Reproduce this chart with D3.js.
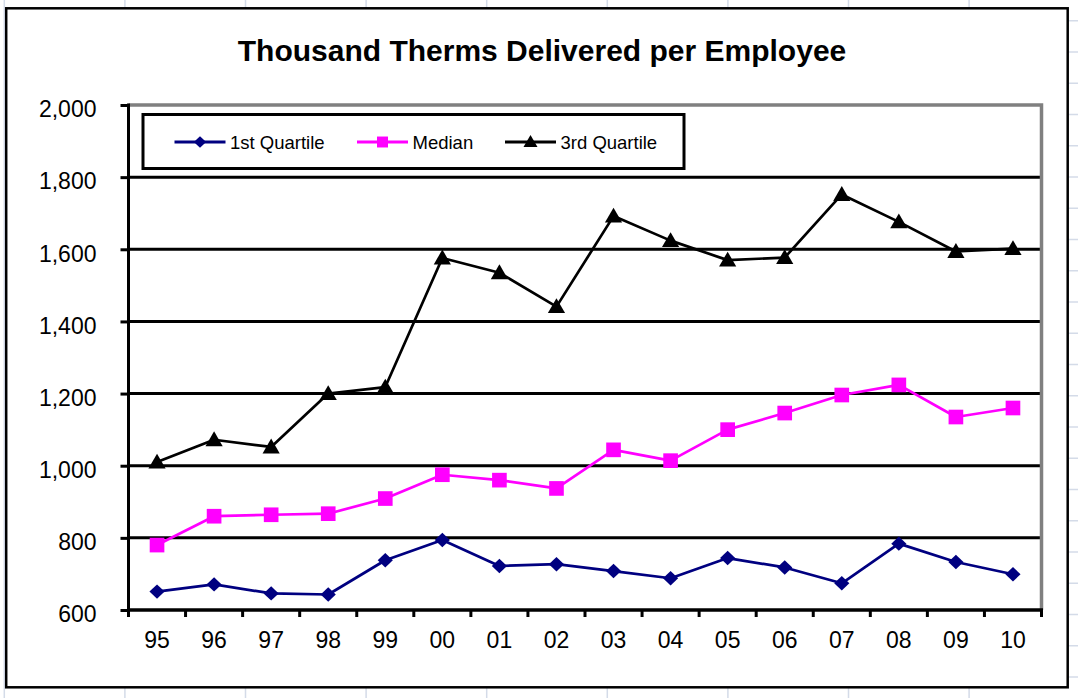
<!DOCTYPE html>
<html>
<head>
<meta charset="utf-8">
<script src="https://cdn.jsdelivr.net/npm/d3@7"></script>
<style>
  html, body { margin: 0; padding: 0; background: #ffffff; }
  svg { display: block; }
  text { font-family: "Liberation Sans", Arial, sans-serif; }
</style>
</head>
<body>
<svg id="chart" width="1078" height="698"></svg>
<script>
// ---- data ----
const categories = ["95","96","97","98","99","00","01","02","03","04","05","06","07","08","09","10"];
const firstQuartile = [651, 671, 646, 643, 738, 794, 722, 727, 708, 688, 744, 718, 674, 784, 733, 699];
const median       = [780, 860, 864, 867, 909, 975, 960, 937, 1044, 1014, 1100, 1146, 1196, 1224, 1135, 1160];
const thirdQuartile = [1010, 1072, 1052, 1200, 1218, 1576, 1535, 1441, 1692, 1624, 1570, 1577, 1752, 1676, 1594, 1602];
const yTicks = [600, 800, 1000, 1200, 1400, 1600, 1800, 2000];
const seriesNames = ["1st Quartile", "Median", "3rd Quartile"];
const titleText = "Thousand Therms Delivered per Employee";

(function () {
// square-ish diamond marker (Excel style)
const excelDiamond = {
  draw(ctx, size) {
    const r = Math.sqrt(size) / 2;
    ctx.moveTo(0, -r * 0.95);
    ctx.lineTo(r, 0);
    ctx.lineTo(0, r * 0.95);
    ctx.lineTo(-r, 0);
    ctx.closePath();
  }
};

const series = [
  { name: seriesNames[0], values: firstQuartile, color: "#000080", symbol: excelDiamond, size: 230, lsize: 150 },
  { name: seriesNames[1], values: median, color: "#FF00FF", symbol: d3.symbolSquare, size: 215, lsize: 120 },
  { name: seriesNames[2], values: thirdQuartile, color: "#000000", symbol: d3.symbolTriangle, size: 128, lsize: 85 }
];

const svg = d3.select("#chart");
const W = 1078, H = 698;

// ---- spreadsheet background grid ----
const sheet = svg.append("g");
for (let k = 0; k < 10; k++) {
  const xv = 4.3 + 120.6 * k;
  sheet.append("line").attr("x1", xv).attr("x2", xv).attr("y1", 0).attr("y2", H)
    .attr("stroke", "#d4dbe8").attr("stroke-width", 1.5);
}
for (let k = 0; k < 23; k++) {
  const yv = 20.8 + 31.25 * k;
  sheet.append("line").attr("x1", 1000).attr("x2", W).attr("y1", yv).attr("y2", yv)
    .attr("stroke", "#d4dbe8").attr("stroke-width", 1.5);
}

// ---- chart area ----
svg.append("rect").attr("x", 6.2).attr("y", 8.3).attr("width", 1061.5).attr("height", 679)
  .attr("fill", "#ffffff").attr("stroke", "#000000").attr("stroke-width", 2.5);

svg.append("text").attr("x", 542).attr("y", 61).attr("text-anchor", "middle")
  .attr("font-size", 30).attr("font-weight", "bold").attr("fill", "#000")
  .text(titleText);

// ---- scales ----
const pLeft = 128.5, pRight = 1041.5, pTop = 105, pBottom = 610;
const x = d3.scaleBand().domain(categories).range([pLeft, pRight]).padding(0);
const y = d3.scaleLinear().domain([600, 2000]).range([pBottom, pTop]);
const cx = c => x(c) + x.bandwidth() / 2;

// ---- gridlines ----
svg.append("g").selectAll("line").data(yTicks.filter(v => v > 600 && v < 2000)).join("line")
  .attr("x1", pLeft).attr("x2", pRight).attr("y1", d => y(d)).attr("y2", d => y(d))
  .attr("stroke", "#000").attr("stroke-width", 3);

// plot area border (top, right) in gray
svg.append("path")
  .attr("d", `M${pLeft},${y(2000)}H${pRight}V${pBottom}`)
  .attr("fill", "none").attr("stroke", "#808080").attr("stroke-width", 3.5);

// ---- y axis ----
const yAxis = d3.axisLeft(y).tickValues(yTicks).tickSize(8).tickPadding(24)
  .tickFormat(d3.format(","));
const gy = svg.append("g").attr("transform", `translate(${pLeft},0)`).call(yAxis);
gy.select(".domain").remove();
gy.selectAll(".tick line").attr("stroke", "#000").attr("stroke-width", 3);
gy.selectAll(".tick text").attr("font-size", 23).attr("fill", "#000")
  .attr("font-family", "'Liberation Sans', Arial, sans-serif").attr("dy", "0.51em");

// ---- x axis ----
const xAxis = d3.axisBottom(x).tickSize(0).tickPadding(22);
const gx = svg.append("g").attr("transform", `translate(0,${pBottom})`).call(xAxis);
gx.select(".domain").remove();
gx.selectAll(".tick text").attr("font-size", 23).attr("fill", "#000")
  .attr("font-family", "'Liberation Sans', Arial, sans-serif");
// boundary tick marks
const boundaries = categories.map(c => x(c)).concat([pRight]);
svg.append("g").selectAll("line").data(boundaries).join("line")
  .attr("x1", d => d).attr("x2", d => d).attr("y1", pBottom).attr("y2", pBottom + 7)
  .attr("stroke", "#000").attr("stroke-width", 3);

// axis lines
svg.append("line").attr("x1", pLeft).attr("x2", pLeft).attr("y1", pTop - 1.5).attr("y2", pBottom + 1.5)
  .attr("stroke", "#000").attr("stroke-width", 3);
svg.append("line").attr("x1", pLeft - 1.5).attr("x2", pRight + 1.5).attr("y1", pBottom).attr("y2", pBottom)
  .attr("stroke", "#000").attr("stroke-width", 3.5);

// ---- series ----
const line = d3.line().x((d, i) => cx(categories[i])).y(d => y(d));
const markerPath = (sym, size) => d3.symbol().type(sym).size(size)();

series.forEach(s => {
  svg.append("path").datum(s.values).attr("d", line)
    .attr("fill", "none").attr("stroke", s.color).attr("stroke-width", 2.7)
    .attr("stroke-linejoin", "round");
});
series.forEach(s => {
  const g = svg.append("g");
  const dy = s.symbol === d3.symbolTriangle ? 1.5 : 0;
  g.selectAll("path").data(s.values).join("path")
    .attr("d", markerPath(s.symbol, s.size))
    .attr("transform", (v, i) => `translate(${cx(categories[i])},${y(v) + dy})`)
    .attr("fill", s.color);
});

// ---- legend ----
const lg = svg.append("g");
lg.append("rect").attr("x", 143).attr("y", 114.5).attr("width", 541).attr("height", 54)
  .attr("fill", "#fff").attr("stroke", "#000").attr("stroke-width", 3);
const legendX = [174.5, 357, 505];
series.forEach((s, i) => {
  const x0 = legendX[i], ly = 142;
  lg.append("line").attr("x1", x0).attr("x2", x0 + 51).attr("y1", ly).attr("y2", ly)
    .attr("stroke", s.color).attr("stroke-width", 3);
  lg.append("path").attr("d", markerPath(s.symbol, s.lsize))
    .attr("transform", `translate(${x0 + 25.5},${ly + (s.symbol === d3.symbolTriangle ? 1 : 0)})`)
    .attr("fill", s.color);
  lg.append("text").attr("x", x0 + 55.5).attr("y", 149).attr("font-size", 18.5)
    .attr("fill", "#000").text(s.name);
});
})();
</script>
</body>
</html>
